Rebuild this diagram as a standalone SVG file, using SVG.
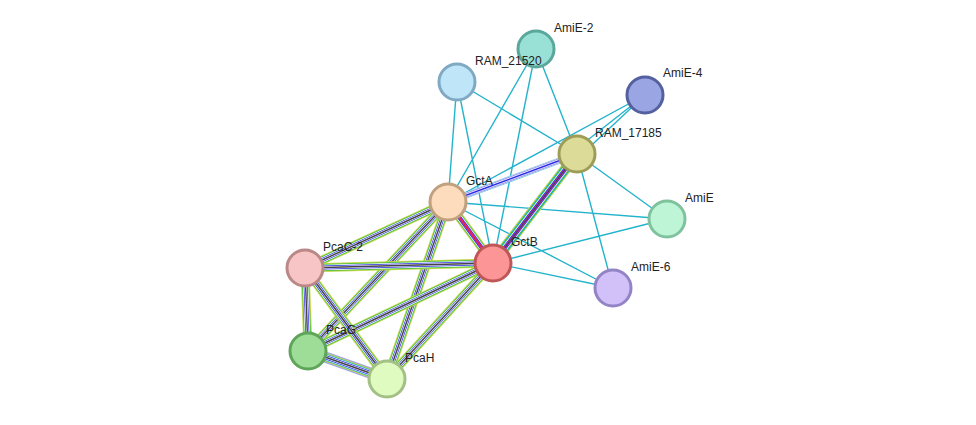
<svg xmlns="http://www.w3.org/2000/svg" xmlns:xlink="http://www.w3.org/1999/xlink" width="976" height="425" viewBox="0 0 976 425">
<style>
.c{stroke:#24b3cc;stroke-width:1.4;fill:none}
.yg{stroke:#c3d64a;stroke-width:9;fill:none}
.gr{stroke:#3dbf3d;stroke-width:7;fill:none}
.w{stroke:#fff;stroke-width:5.5;fill:none}
.bl{stroke:#2a2ae6;stroke-width:4;fill:none}
.w2{stroke:#fff;stroke-width:2.6;fill:none}
.bk{stroke:#444;stroke-width:1.4;fill:none}
.rd{stroke:#e02a2a;stroke-width:1.4;fill:none}
.mg{stroke:#d62ad6;stroke-width:2.6;fill:none}
.lv{stroke:#a0a0f0;stroke-width:5;fill:none}
text{font-family:"Liberation Sans",Arial,sans-serif;font-size:12px;fill:#222}
circle{stroke-width:3}
</style>
<defs>
<path id="e1" d="M448 202L305 268"/>
<path id="e2" d="M448 202L308 351"/>
<path id="e3" d="M448 202L387 379"/>
<path id="e4" d="M448 202L493 263"/>
<path id="e5" d="M448 202L577 154"/>
<path id="e6" d="M493 263L305 268"/>
<path id="e7" d="M493 263L308 351"/>
<path id="e8" d="M493 263L387 379"/>
<path id="e9" d="M493 263L577 154"/>
<path id="e10" d="M305 268L308 351"/>
<path id="e11" d="M305 268L387 379"/>
<path id="e12" d="M308 351L387 379"/>
</defs>
<g id="connectors">
<path class="c" d="M536 49L448 202M536 49L493 263M536 49L577 154M457 82L448 202M457 82L493 263M457 82L577 154M645 95L575 150M645 95L579 157M645 95L448 202M577 154L667 219M577 154L613 288M448 202L667 219M448 202L613 288M493 263L667 219M493 263L613 288"/>
<use href="#e1" class="yg"/><use href="#e1" class="gr"/><use href="#e1" class="w"/><use href="#e1" class="bl"/><use href="#e1" class="w2"/><use href="#e1" class="bk"/>
<use href="#e2" class="yg"/><use href="#e2" class="gr"/><use href="#e2" class="w"/><use href="#e2" class="bl"/><use href="#e2" class="w2"/><use href="#e2" class="bk"/>
<use href="#e3" class="yg"/><use href="#e3" class="gr"/><use href="#e3" class="w"/><use href="#e3" class="bl"/><use href="#e3" class="w2"/><use href="#e3" class="bk"/>
<use href="#e4" class="yg"/><use href="#e4" class="gr"/><use href="#e4" class="w"/><use href="#e4" class="bl"/><use href="#e4" class="mg"/><use href="#e4" class="rd"/>
<use href="#e5" class="c" style="stroke-width:6"/><use href="#e5" class="w"/><use href="#e5" class="lv"/><use href="#e5" class="w2"/><use href="#e5" class="bl" style="stroke-width:1.4"/>
<use href="#e6" class="yg"/><use href="#e6" class="gr"/><use href="#e6" class="w"/><use href="#e6" class="bl"/><use href="#e6" class="w2"/><use href="#e6" class="bk"/>
<use href="#e7" class="yg"/><use href="#e7" class="gr"/><use href="#e7" class="w"/><use href="#e7" class="bl"/><use href="#e7" class="w2"/><use href="#e7" class="bk"/>
<use href="#e8" class="yg"/><use href="#e8" class="gr"/><use href="#e8" class="w"/><use href="#e8" class="bl"/><use href="#e8" class="w2"/><use href="#e8" class="bk"/>
<use href="#e9" class="yg" style="stroke-width:11"/><use href="#e9" class="c" style="stroke-width:9"/><use href="#e9" class="gr"/><use href="#e9" class="w"/><use href="#e9" class="bl"/><use href="#e9" class="mg"/><use href="#e9" class="bk"/>
<use href="#e10" class="yg"/><use href="#e10" class="gr"/><use href="#e10" class="w"/><use href="#e10" class="bl"/><use href="#e10" class="w2"/><use href="#e10" class="bk"/>
<use href="#e11" class="yg"/><use href="#e11" class="gr"/><use href="#e11" class="w"/><use href="#e11" class="bl"/><use href="#e11" class="w2"/><use href="#e11" class="bk"/>
<use href="#e12" class="lv" style="stroke-width:11"/><use href="#e12" class="yg"/><use href="#e12" class="c" style="stroke-width:7"/><use href="#e12" class="w"/><use href="#e12" class="bl"/><use href="#e12" class="w2"/><use href="#e12" class="bk"/>
</g>
<g id="AmiE-2"><circle cx="536" cy="49" r="18" fill="#99e0d6" stroke="#5aa89c"/><text x="554" y="32">AmiE-2</text></g>
<g id="RAM_21520"><circle cx="457" cy="82" r="18" fill="#bfe5f8" stroke="#80aac4"/><text x="475" y="65">RAM_21520</text></g>
<g id="AmiE-4"><circle cx="645" cy="95" r="18" fill="#9aa5e3" stroke="#55609e"/><text x="663" y="77">AmiE-4</text></g>
<g id="RAM_17185"><circle cx="577" cy="154" r="18" fill="#dcdb98" stroke="#9e9d58"/><text x="595" y="137">RAM_17185</text></g>
<g id="GctA"><circle cx="448" cy="202" r="18" fill="#fcdcbc" stroke="#c0a07f"/><text x="466" y="185">GctA</text></g>
<g id="AmiE"><circle cx="667" cy="219" r="18" fill="#bef5d7" stroke="#7fc39e"/><text x="685" y="202">AmiE</text></g>
<g id="PcaC-2"><circle cx="305" cy="268" r="18" fill="#f7c5c5" stroke="#bb8888"/><text x="323" y="251">PcaC-2</text></g>
<g id="GctB"><circle cx="493" cy="263" r="18" fill="#fc9595" stroke="#c05757"/><text x="511" y="246">GctB</text></g>
<g id="AmiE-6"><circle cx="613" cy="288" r="18" fill="#d1c1f8" stroke="#9484c6"/><text x="631" y="271">AmiE-6</text></g>
<g id="PcaG"><circle cx="308" cy="351" r="18" fill="#9edd97" stroke="#5ea559"/><text x="326" y="334">PcaG</text></g>
<g id="PcaH"><circle cx="387" cy="379" r="18" fill="#e0fbc0" stroke="#a3c085"/><text x="405" y="362">PcaH</text></g>
</svg>
